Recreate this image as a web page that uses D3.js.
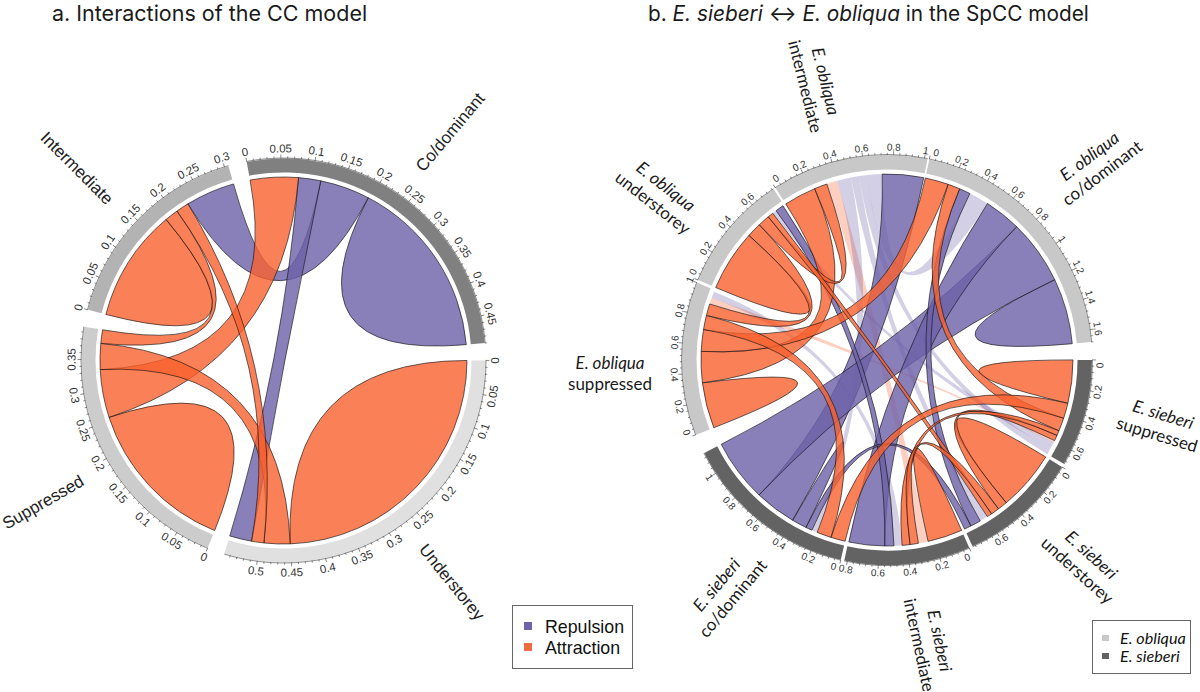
<!DOCTYPE html>
<html><head><meta charset="utf-8">
<script src="https://cdn.jsdelivr.net/npm/d3@7"></script>
<style>html,body{margin:0;padding:0;background:#fff}svg{display:block}</style>
</head><body><svg id="c" width="1200" height="692"></svg>
<script>
// ---------- data: chart a ----------
const sectorsA = ["Co/dominant","Understorey","Suppressed","Intermediate"];
const sizesA   = [0.49,0.549,0.398,0.306];
const gapsA    = [4.95,5,4.9,5.3];
const fillsA   = ["#808080","#E0E0E0","#CCCCCC","#B3B3B3"];
// [sectorA, a0, a1, sectorB, b0, b1, kind]  R repulsion, A attraction
const linksA = [
 [0,0.195,0.343,0,0.343,0.49,"R"],
 [1,0,0.225,1,0.225,0.451,"A"],
 [2,0,0.128,2,0.128,0.256,"A"],
 [3,0,0.09,3,0.09,0.183,"A"],
 [0,0.114,0.195,3,0.226,0.306,"R"],
 [0,0.078,0.114,1,0.513,0.549,"R"],
 [0,0,0.078,2,0.256,0.334,"A"],
 [1,0.451,0.493,2,0.334,0.376,"A"],
 [1,0.493,0.513,3,0.205,0.226,"A"],
 [2,0.376,0.398,3,0.183,0.205,"A"]
];
// ---------- data: chart b ----------
const sectorsB = ["obliqua co/dominant","sieberi suppressed","sieberi understorey","sieberi intermediate","sieberi co/dominant","obliqua suppressed","obliqua understorey","obliqua intermediate"];
const sizesB   = [1.68,0.70,0.78,0.82,1.15,1.0,0.77,1.02];
const gapsB    = [5,1,1,1,5.6,0.8,0.6,0.5];
const fillsB   = ["#C8C8C8","#636363","#636363","#636363","#636363","#C8C8C8","#C8C8C8","#C8C8C8"];
const OC=0,SS=1,SU=2,SI=3,SC=4,OS=5,OU=6,OI=7;
// lower-case kinds are the faint (non-significant) links
const linksB = [
 [OI,0.324,0.402,SI,0.25,0.32,"a"],
 [OS,0.894,0.938,SS,0.591,0.605,"a"],
 [OS,0.938,0.986,SI,0.437,0.494,"r"],
 [OC,0.335,0.478,OI,0.62,0.724,"r"],
 [OI,0.402,0.5,SC,0.207,0.248,"r"],
 [OI,0.5,0.56,SU,0.596,0.655,"r"],
 [OI,0.56,0.62,SS,0.65,0.70,"r"],
 [OU,0.67,0.70,SS,0.605,0.65,"r"],
 [OC,1.207,1.44,OC,1.44,1.68,"R"],
 [SC,0.294,0.348,SC,0.348,0.402,"R"],
 [OI,0.724,1.02,SC,0.402,0.70,"R"],
 [OC,0.743,1.207,SC,0.70,1.15,"R"],
 [OC,0.478,0.743,SI,0.559,0.816,"R"],
 [OU,0.70,0.76,SI,0.494,0.559,"R"],
 [OC,0.255,0.335,SU,0.655,0.73,"R"],
 [SU,0.73,0.78,SC,0.248,0.294,"R"],
 [SS,0,0.155,SS,0.155,0.31,"A"],
 [SU,0,0.215,SU,0.215,0.43,"A"],
 [SI,0,0.125,SI,0.125,0.25,"A"],
 [OS,0,0.165,OS,0.165,0.329,"A"],
 [OU,0,0.22,OU,0.22,0.44,"A"],
 [OS,0.329,0.552,OI,0,0.232,"A"],
 [OS,0.552,0.708,OC,0,0.168,"A"],
 [OS,0.708,0.81,SC,0.103,0.207,"A"],
 [OS,0.81,0.894,OU,0.44,0.545,"A"],
 [OI,0.232,0.324,OU,0.545,0.63,"A"],
 [OU,0.63,0.67,SU,0.56,0.596,"A"],
 [OC,0.168,0.255,SS,0.42,0.515,"A"],
 [SS,0.31,0.42,SC,0,0.103,"A"],
 [SS,0.55,0.591,SU,0.43,0.50,"A"],
 [SS,0.515,0.55,SI,0.38,0.437,"A"],
 [SU,0.50,0.56,SI,0.32,0.38,"A"]
];
const legendA = ["Repulsion","Attraction"];
const legendB = ["E. obliqua","E. sieberi"];

// ---------- drawing ----------
const svg = d3.select("#c");
const TAU = Math.PI/180;
const KIND = {R:["#6D60A8",0.8],A:["#F9602E",0.8],r:["#6D60A8",0.3],a:["#F9602E",0.3]};

function chord(cfg){
  const g = svg.append("g").attr("transform",`translate(${cfg.cx},${cfg.cy})`);
  const total = d3.sum(cfg.sizes), gapSum = d3.sum(cfg.gaps);
  const k = (360-gapSum)/total;
  let start = cfg.start;
  const scales = cfg.sizes.map((s,i)=>{
    const sc = d3.scaleLinear().domain([0,s]).range([start,start+s*k]);
    start += s*k+cfg.gaps[i];
    return sc;
  });
  const arc = d3.arc().innerRadius(cfg.rIn).outerRadius(cfg.R);
  g.selectAll("path.track").data(cfg.sizes).join("path").attr("class","track")
    .attr("fill",(d,i)=>cfg.fills[i])
    .attr("d",(d,i)=>arc({startAngle:scales[i](0)*TAU,endAngle:scales[i](d)*TAU}));
  const pt = (i,v)=>{const t=(scales[i](v)-90)*TAU;return [cfg.rL*Math.cos(t),cfg.rL*Math.sin(t)];};
  const ang = (i,v)=>(scales[i](v)-90)*TAU;
  const linkPath = l=>{
    const [s,a0,a1,e,b0,b1]=l, p=d3.path();
    const A0=pt(s,a0);
    p.moveTo(A0[0],A0[1]);
    if(s===e && a1===b0){
      p.arc(0,0,cfg.rL,ang(s,a0),ang(s,b1));
      p.quadraticCurveTo(0,0,A0[0],A0[1]);
    } else {
      p.arc(0,0,cfg.rL,ang(s,a0),ang(s,a1));
      const B0=pt(e,b0);
      p.quadraticCurveTo(0,0,B0[0],B0[1]);
      p.arc(0,0,cfg.rL,ang(e,b0),ang(e,b1));
      p.quadraticCurveTo(0,0,A0[0],A0[1]);
    }
    p.closePath();
    return p.toString();
  };
  g.selectAll("path.link").data(cfg.links).join("path").attr("class","link")
    .attr("d",linkPath)
    .attr("fill",d=>KIND[d[6]][0]).attr("fill-opacity",d=>KIND[d[6]][1])
    .attr("stroke",d=>d[6]===d[6].toUpperCase()?"#111":"none")
    .attr("stroke-opacity",0.8).attr("stroke-width",0.8);
  cfg.sizes.forEach((size,i)=>{
    const sc=scales[i];
    const ax=g.append("g");
    const base=d3.path();
    base.arc(0,0,cfg.R+0.5,(sc(0)-90)*TAU,(sc(size)-90)*TAU);
    ax.append("path").attr("d",base.toString()).attr("fill","none").attr("stroke","#444").attr("stroke-width",0.6);
    const n=Math.floor(size/cfg.minor+1e-6);
    const minors=d3.range(0,n+1).map(j=>j*cfg.minor);
    const every=Math.round(cfg.major/cfg.minor);
    ax.selectAll("line").data(minors).join("line")
      .attr("x1",0).attr("x2",0)
      .attr("y1",-cfg.R).attr("y2",(d,j)=>-(cfg.R+(j%every===0?4:2.2)))
      .attr("transform",d=>`rotate(${sc(d)})`)
      .attr("stroke","#444").attr("stroke-width",0.6);
    const majors=minors.filter((d,j)=>j%every===0);
    ax.selectAll("text").data(majors).join("text")
      .attr("transform",d=>{
        let th=sc(d)+(d===0?cfg.zeroNudge:0); th=((th%360)+360)%360;
        const t=(th-90)*TAU, r=cfg.R+cfg.labelOff;
        const rot=(th>90&&th<270)?th-180:th;
        return `translate(${r*Math.cos(t)},${r*Math.sin(t)}) rotate(${rot})`;
      })
      .attr("text-anchor","middle").attr("dy","0.35em")
      .attr("font-family","'Liberation Sans',Arial,sans-serif")
      .attr("font-size",cfg.tickFont).attr("fill","#333")
      .text(d=>String(+d.toFixed(2)));
  });
}

chord({cx:283.5,cy:360.5,R:202,rIn:188,rL:183.5,start:-10.5,sizes:sizesA,gaps:gapsA,fills:fillsA,links:linksA,major:0.05,minor:0.01,labelOff:10,tickFont:11.5,zeroNudge:0});
chord({cx:887,cy:360,R:205,rIn:190.5,rL:186,start:11.9,sizes:sizesB,gaps:gapsB,fills:fillsB,links:linksB,major:0.2,minor:0.04,labelOff:8,tickFont:10,zeroNudge:1.5});

// titles
const TITLE="Inter,'Noto Sans',sans-serif";
svg.append("text").attr("x",52).attr("y",21).attr("font-family",TITLE).attr("font-size",21.5).attr("fill","#1a1a1a")
  .text("a. Interactions of the CC model");
const tb=svg.append("text").attr("x",648).attr("y",21).attr("font-family",TITLE).attr("font-size",20.8).attr("fill","#1a1a1a");
[["b. ",0],["E. sieberi",1],[" ↔ ",0],["E. obliqua",1],[" in the SpCC model",0]].forEach(([t,it])=>{
  tb.append("tspan").attr("font-style",it?"italic":"normal").text(t);
});

// sector labels, chart a
const labA=[["Co/dominant",450,132,-50],["Understorey",452,582,51],["Suppressed",43,502,-30],["Intermediate",77,168,45]];
labA.forEach(([t,x,y,r])=>{
  svg.append("text").attr("transform",`translate(${x},${y}) rotate(${r})`).attr("text-anchor","middle").attr("dy","0.35em")
    .attr("font-family","'Liberation Sans',Arial,sans-serif").attr("font-size",17).attr("fill","#222").text(t);
});
// sector labels, chart b: species line in italics, stratum line below
const labB=[
 ["E. obliqua","intermediate",815,84,76],
 ["E. obliqua","understorey",659,195,38],
 ["E. obliqua","co/dominant",1096,165,-37],
 ["E. obliqua","suppressed",610,374,0],
 ["E. sieberi","suppressed",1160,425,17],
 ["E. sieberi","understorey",1084,563,42],
 ["E. sieberi","intermediate",929,643,78],
 ["E. sieberi","co/dominant",725,592,-50]
];
labB.forEach(([a,b,x,y,r])=>{
  const g=svg.append("g").attr("transform",`translate(${x},${y}) rotate(${r})`)
    .attr("font-family","Lato,sans-serif").attr("font-size",17).attr("fill","#1a1a1a").attr("text-anchor","middle");
  g.append("text").attr("y",-5).attr("font-style","italic").text(a);
  g.append("text").attr("y",16).text(b);
});

// legends
const la=svg.append("g");
la.append("rect").attr("x",512.5).attr("y",605.5).attr("width",120).attr("height",63).attr("fill","#fff").attr("stroke","#666").attr("stroke-width",1);
legendA.forEach((t,i)=>{
  la.append("rect").attr("x",524).attr("y",622+i*21).attr("width",8).attr("height",8).attr("fill",["#6E62A8","#F26B3E"][i]);
  la.append("text").attr("x",545).attr("y",633+i*21).attr("font-family","'Liberation Sans',Arial,sans-serif").attr("font-size",17.8).attr("fill","#111").text(t);
});
const lb=svg.append("g");
lb.append("rect").attr("x",1092.5).attr("y",620.5).attr("width",98).attr("height",53).attr("fill","#fff").attr("stroke","#666").attr("stroke-width",1);
legendB.forEach((t,i)=>{
  lb.append("rect").attr("x",1102).attr("y",635+i*18).attr("width",7).attr("height",6).attr("fill",["#C8C8C8","#636363"][i]);
  lb.append("text").attr("x",1120).attr("y",644+i*18).attr("font-family","Lato,sans-serif").attr("font-style","italic").attr("font-size",16.2).attr("fill","#111").text(t);
});
</script></body></html>
